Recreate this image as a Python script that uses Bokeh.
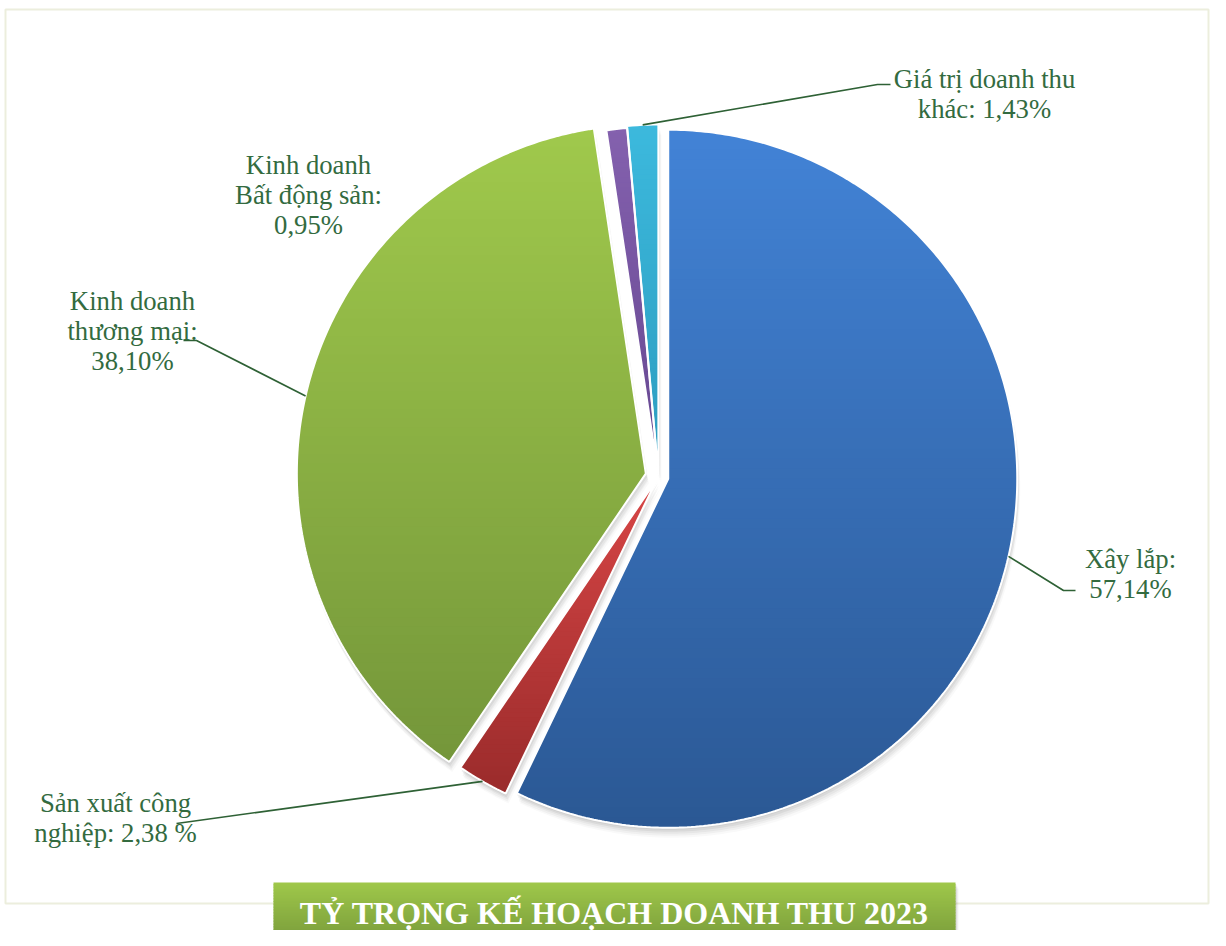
import numpy as np
from bokeh.plotting import figure
from bokeh.models import Range1d
from bokeh.embed import file_html
from bokeh.resources import INLINE
from bokeh.core.properties import value

# ---------------- data ----------------
categories = ["Xây lắp", "Sản xuất công nghiệp", "Kinh doanh thương mại",
              "Kinh doanh Bất động sản", "Giá trị doanh thu khác"]
shares = [57.14, 2.38, 38.10, 0.95, 1.43]
labels = ["Xây lắp:\n57,14%",
          "Sản xuất công\nnghiệp: 2,38 %",
          "Kinh doanh\nthương mại:\n38,10%",
          "Kinh doanh\nBất động sản:\n0,95%",
          "Giá trị doanh thu\nkhác: 1,43%"]
title_text = "TỶ TRỌNG KẾ HOẠCH DOANH THU 2023"

# ---------------- styles / layout ----------------
top_colors = ["#4283d6", "#d84646", "#a0c94c", "#8461ae", "#3cb9dd"]
bottom_colors = ["#2b5894", "#9a2b2b", "#74963a", "#654690", "#2c9cbf"]
explode = [10, 3, 13, 1, 3]
CX, CY, R = 658.0, 476.0, 349.0
label_color = "#336b3f"
leader_color = "#2e6135"
# label anchor (center x, first line center y); leader elbow & end (None = no leader)
label_anchor = [(1130, 558), (115, 802), (132, 300), (308, 164), (984, 78)]
leader_elbow = [(1063, 590), (176, 823), (196, 340), None, (877, 84)]
leader_end = [(1075, 590), (176, 823), (183, 340), None, (890, 84)]
line_gap = 30

W, H = 1210, 930
p = figure(width=W, height=H, x_range=Range1d(0, W), y_range=Range1d(H, 0),
           output_backend="svg", toolbar_location=None, min_border=0,
           x_axis_location=None, y_axis_location=None)
p.grid.visible = False
p.outline_line_color = None
p.background_fill_color = "white"
p.border_fill_color = "white"

# frame
p.quad(left=[5], right=[1208], top=[9], bottom=[903], fill_alpha=0,
       line_color="#eceedd", line_width=2)


def hex2rgb(h):
    h = h.lstrip("#")
    return np.array([int(h[i:i + 2], 16) for i in (0, 2, 4)], dtype=float)


def mix(c0, c1, t):
    c = hex2rgb(c0) * (1 - t) + hex2rgb(c1) * t
    return "#%02x%02x%02x" % tuple(int(round(v)) for v in c)


def clip_band(pts, y0, y1):
    def clip(pts, keep, yc):
        out = []
        n = len(pts)
        for i in range(n):
            cur, prev = pts[i], pts[i - 1]
            if keep(cur):
                if not keep(prev):
                    t = (yc - prev[1]) / (cur[1] - prev[1])
                    out.append((prev[0] + t * (cur[0] - prev[0]), yc))
                out.append(cur)
            elif keep(prev):
                t = (yc - prev[1]) / (cur[1] - prev[1])
                out.append((prev[0] + t * (cur[0] - prev[0]), yc))
        return out
    pts = clip(pts, lambda q: q[1] >= y0, y0)
    if len(pts) < 3:
        return None
    pts = clip(pts, lambda q: q[1] <= y1, y1)
    return pts if len(pts) >= 3 else None


total = sum(shares)
angles = np.cumsum([0] + [s / total * 360 for s in shares])
slices = []
mids = []
for i, s in enumerate(shares):
    a0, a1 = angles[i], angles[i + 1]
    am = np.radians((a0 + a1) / 2)
    tx = CX + explode[i] * np.sin(am)
    ty = CY - explode[i] * np.cos(am)
    n = max(6, int((a1 - a0) * 1.5))
    th = np.radians(np.linspace(a0, a1, n))
    xs = [tx] + list(tx + R * np.sin(th))
    ys = [ty] + list(ty - R * np.cos(th))
    slices.append((xs, ys))
    mids.append((tx + R * np.sin(am), ty - R * np.cos(am)))

# shadows
for dx, dy, a in [(0, 2, 0.05), (1, 4, 0.05), (2, 6, 0.04), (2, 8, 0.035), (3, 10, 0.025)]:
    p.patches(xs=[[x + dx for x in s[0]] for s in slices],
              ys=[[y + dy for y in s[1]] for s in slices],
              fill_color="black", fill_alpha=a, line_color=None)

# gradient-filled slices
bxs, bys, bcol = [], [], []
NB = 70
for i, (xs, ys) in enumerate(slices):
    pts = list(zip(xs, ys))
    ymin, ymax = min(ys), max(ys)
    edges = np.linspace(ymin, ymax, NB + 1)
    for k in range(NB):
        c = clip_band(pts, edges[k], edges[k + 1] + 1.0)
        if c is None:
            continue
        bxs.append([q[0] for q in c])
        bys.append([q[1] for q in c])
        bcol.append(mix(top_colors[i], bottom_colors[i], (k + 0.5) / NB))
p.patches(xs=bxs, ys=bys, fill_color=bcol, line_color=None)

# white slice borders
p.patches(xs=[s[0] for s in slices], ys=[s[1] for s in slices],
          fill_alpha=0, line_color="white", line_width=2)

# leader lines
lx, ly = [], []
for i in range(len(shares)):
    if leader_elbow[i] is None:
        continue
    lx.append([mids[i][0], leader_elbow[i][0], leader_end[i][0]])
    ly.append([mids[i][1], leader_elbow[i][1], leader_end[i][1]])
p.multi_line(xs=lx, ys=ly, line_color=leader_color, line_width=1.6)

# labels
tx_, ty_, tt_ = [], [], []
for i, lab in enumerate(labels):
    for j, line in enumerate(lab.split("\n")):
        tx_.append(label_anchor[i][0])
        ty_.append(label_anchor[i][1] + j * line_gap)
        tt_.append(line)
p.text(x=tx_, y=ty_, text=tt_, text_align="center", text_baseline="middle",
       text_font=value("Liberation Serif"), text_font_size="26.7px",
       text_color=label_color)

# title box
BL, BR, BT, BB = 273, 955, 882, 944
for dx, dy, a in [(1, 2, 0.08), (2, 4, 0.06), (3, 6, 0.04)]:
    p.quad(left=[BL + dx], right=[BR + dx], top=[BT + dy], bottom=[BB + dy],
           fill_color="black", fill_alpha=a, line_color=None)
NQ = 40
qe = np.linspace(BT, BB, NQ + 1)
p.quad(left=[BL] * NQ, right=[BR] * NQ, top=list(qe[:-1]), bottom=list(qe[1:] + 0.8),
       fill_color=[mix("#9fc84a", "#77993a", (k + 0.5) / NQ) for k in range(NQ)],
       line_color=None)
p.text(x=[(BL + BR) / 2], y=[912], text=[title_text], text_align="center",
       text_baseline="middle", text_font=value("Liberation Serif"),
       text_font_style="bold", text_font_size="32px", text_color="white")

open("out.html", "w").write(file_html(p, INLINE))
